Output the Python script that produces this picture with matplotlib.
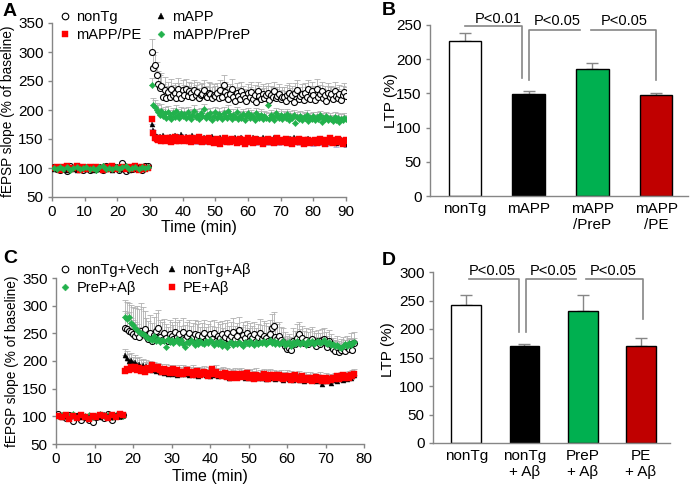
import numpy as np
import matplotlib.pyplot as plt

plt.rcParams['font.family'] = ['Liberation Sans', 'DejaVu Sans']
plt.rcParams['font.size'] = 10

GRAY = '#868686'

# ---------------- Panel A data (1-min baseline, 0.5-min after tetanus) ----------------
a_base_t = 0.5 + np.arange(30)
a_post_t = 30.5 + 0.5 * np.arange(120)

a_nontg_base = [101, 99, 97, 102, 95, 104, 100, 103, 98, 97,
                100, 96, 102, 99, 101, 97, 103, 100, 98, 102,
                97, 108, 94, 102, 99, 101, 100, 97, 103, 104]
a_mapp_base = [99, 101, 98, 100, 97, 102, 99, 96, 101, 100,
               98, 102, 97, 100, 99, 101, 98, 103, 97, 100,
               102, 98, 101, 97, 100, 99, 103, 98, 100, 101]
a_pe_base = [100, 102, 97, 101, 104, 98, 100, 103, 97, 101,
             99, 101, 98, 102, 100, 97, 101, 99, 103, 98,
             100, 102, 98, 101, 99, 104, 97, 101, 98, 100]
a_prep_base = [100, 98, 101, 99, 102, 97, 100, 101, 98, 100,
               102, 99, 100, 97, 101, 103, 99, 100, 98, 102,
               99, 101, 104, 98, 100, 102, 99, 101, 100, 102]

a_nontg_post = [300, 272, 278, 260, 245, 238, 242, 222, 235, 220,
                231, 222, 236, 225, 229, 221, 237, 228, 220, 234,
                226, 236, 224, 232, 229, 222, 235, 226, 231, 221,
                226, 228, 234, 224, 222, 230, 228, 221, 226, 224,
                230, 220, 234, 223, 243, 231, 225, 219, 228, 236,
                222, 216, 230, 224, 219, 233, 226, 221, 215, 229,
                222, 231, 219, 226, 214, 232, 224, 219, 228, 221,
                225, 230, 217, 226, 223, 232, 220, 224, 228, 219,
                223, 222, 216, 226, 230, 221, 225, 214, 229, 235,
                219, 224, 228, 217, 230, 223, 236, 219, 232, 225,
                218, 237, 222, 227, 232, 220, 225, 216, 230, 223,
                227, 219, 233, 224, 221, 228, 218, 226, 231, 224]
a_prep_post = [243, 208, 205, 200, 196, 192, 198, 189, 194, 186,
               197, 190, 185, 194, 188, 199, 191, 186, 195, 189,
               193, 187, 196, 190, 184, 192, 198, 188, 191, 185,
               194, 189, 201, 186, 192, 188, 195, 183, 190, 196,
               187, 193, 189, 184, 195, 190, 186, 198, 191, 185,
               192, 188, 196, 184, 190, 187, 193, 182, 189, 194,
               186, 191, 188, 183, 195, 189, 186, 192, 184, 190,
               187, 208, 185, 191, 188, 183, 194, 189, 186, 192,
               184, 190, 187, 193, 182, 189, 186, 191, 178, 188,
               185, 190, 183, 188, 186, 192, 181, 187, 184, 189,
               183, 188, 185, 191, 180, 186, 184, 189, 182, 187,
               184, 181, 188, 183, 186, 180, 185, 182, 187, 184]
a_mapp_post = [175, 165, 158, 155, 153, 156, 151, 157, 152, 154,
               150, 156, 153, 149, 157, 152, 155, 150, 158, 153,
               151, 155, 149, 154, 152, 157, 150, 153, 148, 155,
               152, 149, 154, 151, 147, 153, 150, 155, 148, 152,
               150, 146, 153, 149, 151, 147, 154, 150, 148, 152,
               149, 154, 147, 151, 148, 153, 150, 146, 152, 149,
               151, 147, 153, 149, 146, 152, 150, 148, 154, 147,
               150, 146, 152, 149, 147, 153, 148, 151, 146, 150,
               148, 152, 147, 150, 145, 151, 149, 153, 147, 150,
               146, 151, 148, 145, 150, 147, 152, 146, 149, 144,
               150, 147, 145, 151, 148, 146, 150, 144, 149, 147,
               145, 149, 147, 143, 148, 146, 150, 144, 147, 142]
a_pe_post = [185, 160, 152, 150, 148, 151, 147, 150, 146, 152,
             148, 151, 145, 149, 153, 147, 150, 146, 151, 148,
             146, 150, 152, 147, 145, 151, 149, 146, 150, 153,
             147, 144, 150, 148, 146, 151, 145, 149, 143, 148,
             150, 146, 142, 149, 147, 151, 145, 148, 144, 150,
             146, 149, 143, 147, 150, 145, 148, 142, 147, 151,
             145, 148, 143, 150, 146, 144, 149, 147, 142, 148,
             146, 150, 144, 147, 149, 143, 146, 151, 145, 148,
             144, 147, 150, 143, 146, 149, 142, 148, 145, 147,
             150, 144, 146, 142, 148, 145, 149, 143, 147, 145,
             148, 143, 146, 150, 144, 147, 142, 149, 145, 151,
             146, 143, 148, 145, 150, 144, 147, 142, 146, 148]

# SEM read per 5-min block (10 points each)
a_nontg_sem = [22, 18, 17, 18, 17, 16, 17, 16, 17, 16, 16, 15]
a_prep_sem = [12, 10, 10, 9, 10, 9, 9, 9, 9, 8, 8, 8]
a_mapp_sem = [7, 6, 6, 6, 6, 6, 6, 6, 6, 6, 6, 6]

# ---------------- Panel C data ----------------
c_base_t = 0.5 + np.arange(18)
c_post_t = 18 + 0.5 * np.arange(120)

c_veh_base = [104, 100, 97, 103, 92, 101, 94, 98, 93, 90, 99, 102, 97, 104, 93, 100, 101, 103]
c_ab_base = [102, 99, 101, 97, 100, 103, 98, 101, 99, 102, 100, 98, 104, 101, 99, 102, 100, 103]
c_prep_base = [100, 103, 98, 101, 104, 99, 102, 100, 103, 98, 101, 104, 100, 102, 99, 103, 101, 100]
c_pe_base = [101, 98, 102, 96, 100, 97, 103, 99, 95, 101, 98, 102, 100, 97, 103, 99, 104, 102]

c_veh_post = [260, 257, 255, 252, 248, 245, 250, 244, 255, 248,
              258, 246, 240, 251, 236, 247, 255, 260, 243, 238,
              250, 241, 236, 248, 245, 239, 252, 244, 248, 237,
              253, 240, 246, 250, 238, 244, 249, 241, 247, 236,
              245, 250, 238, 243, 248, 240, 251, 237, 246, 242,
              249, 236, 244, 251, 239, 246, 253, 240, 245, 256,
              238, 247, 242, 250, 236, 245, 241, 248, 237, 244,
              250, 239, 246, 242, 237, 248, 259, 263, 244, 240,
              246, 238, 235, 228, 222, 224, 219, 236, 230, 242,
              248, 235, 241, 232, 238, 230, 236, 240, 233, 228,
              236, 231, 238, 240, 233, 226, 236, 229, 222, 218,
              225, 217, 220, 223, 218, 226, 221, 230, 219, 232]
c_prep_post = [280, 276, 279, 268, 265, 260, 256, 252, 250, 248,
               247, 244, 242, 240, 238, 245, 236, 240, 234, 238,
               237, 226, 240, 234, 238, 232, 236, 240, 233, 238,
               230, 226, 235, 232, 238, 234, 229, 236, 231, 237,
               233, 230, 236, 232, 238, 234, 229, 235, 231, 236,
               228, 233, 230, 226, 232, 235, 229, 233, 230, 234,
               231, 228, 235, 232, 230, 236, 233, 229, 234, 231,
               235, 232, 236, 230, 234, 238, 233, 236, 231, 234,
               230, 233, 236, 229, 232, 235, 228, 234, 231, 236,
               233, 230, 235, 232, 229, 236, 233, 237, 231, 234,
               236, 232, 235, 238, 233, 230, 234, 229, 231, 227,
               229, 226, 224, 228, 231, 227, 233, 229, 232, 235]
c_ab_post = [210, 206, 200, 202, 196, 199, 193, 195, 190, 192,
             188, 191, 186, 189, 184, 187, 182, 185, 180, 183,
             179, 182, 177, 181, 176, 180, 178, 175, 181, 177,
             180, 176, 179, 174, 178, 181, 175, 178, 173, 177,
             176, 179, 174, 178, 172, 177, 175, 180, 173, 176,
             174, 178, 172, 176, 170, 175, 173, 177, 171, 174,
             176, 172, 170, 175, 173, 169, 174, 171, 176, 170,
             173, 170, 175, 168, 172, 174, 169, 173, 167, 171,
             169, 173, 166, 170, 172, 168, 171, 165, 170, 168,
             172, 166, 169, 164, 170, 167, 171, 165, 168, 163,
             167, 170, 158, 165, 169, 163, 167, 161, 166, 169,
             164, 168, 171, 166, 170, 167, 172, 169, 173, 175]
c_pe_post = [182, 186, 184, 189, 185, 190, 184, 187, 182, 186,
             180, 185, 188, 183, 192, 189, 186, 190, 184, 181,
             186, 180, 183, 178, 182, 185, 179, 183, 177, 181,
             176, 180, 183, 178, 181, 175, 179, 182, 177, 174,
             178, 181, 176, 173, 179, 185, 176, 180, 174, 177,
             172, 175, 178, 171, 176, 169, 174, 177, 170, 173,
             176, 171, 174, 178, 170, 175, 172, 168, 174, 171,
             169, 173, 176, 170, 168, 174, 171, 175, 169, 172,
             175, 170, 167, 173, 169, 172, 166, 171, 174, 168,
             170, 166, 172, 168, 165, 170, 167, 163, 169, 171,
             166, 169, 164, 167, 170, 163, 168, 165, 170, 167,
             172, 168, 171, 174, 169, 173, 170, 175, 172, 176]

c_veh_sem = [50, 32, 26, 25, 24, 24, 23, 26, 24, 22, 20, 20]
c_prep_sem = [10, 8, 8, 7, 7, 7, 7, 7, 7, 7, 7, 7]
c_ab_sem = [12, 11, 12, 12, 12, 11, 11, 11, 11, 10, 10, 10]

# ---------------- Bar data ----------------
b_labels = ['nonTg', 'mAPP', 'mAPP\n/PreP', 'mAPP\n/PE']
b_ltp = [226, 149, 185, 147]
b_sem = [13, 5, 9, 3]

d_labels = ['nonTg', 'nonTg\n+ Aβ', 'PreP\n+ Aβ', 'PE\n+ Aβ']
d_ltp = [242, 170, 232, 170]
d_sem = [18, 3, 28, 15]

bar_colors = ['white', 'black', '#00B050', '#C00000']

# marker styles
S_CIRC = dict(marker='o', ms=4.3, mfc='white', mec='black', mew=0.8, ls='none')
S_TRI = dict(marker='^', ms=3.6, mfc='black', mec='black', mew=0.3, ls='none')
S_SQ = dict(marker='s', ms=3.8, mfc='#FF0000', mec='#FF0000', mew=0.3, ls='none')
S_DIA = dict(marker='D', ms=3.2, mfc='#22B14C', mec='#22B14C', mew=0.3, ls='none')


def style_axes(ax):
    for s in ['top', 'right']:
        ax.spines[s].set_visible(False)
    for s in ['left', 'bottom']:
        ax.spines[s].set_color(GRAY)
        ax.spines[s].set_linewidth(1.0)
    ax.tick_params(colors=GRAY, labelcolor='black', labelsize=11, length=3, width=1.0, pad=3)


def sem_up(ax, t, y, sem, color='#b0b0b0'):
    err = np.repeat(sem, 10)
    ax.errorbar(t, y, yerr=[np.zeros(len(err)), err], fmt='none', ecolor=color,
                elinewidth=0.6, capsize=2, capthick=0.6, zorder=1)


def sem_down(ax, t, y, sem, color):
    err = np.repeat(sem, 10)
    ax.errorbar(t, y, yerr=[err, np.zeros(len(err))], fmt='none', ecolor=color,
                elinewidth=0.6, capsize=2, capthick=0.6, zorder=1)


def trace(ax, tb, yb, tp, yp, style, label, z):
    ax.plot(tb, yb, zorder=z, **style)
    return ax.plot(tp, yp, zorder=z, label=label, **style)[0]


fig = plt.figure(figsize=(6.9, 4.92), dpi=100)

# ---------------- A ----------------
axA = fig.add_axes([52 / 690, 1 - 197 / 492, 294 / 690, 174 / 492])
sem_up(axA, a_post_t, a_nontg_post, a_nontg_sem)
sem_up(axA, a_post_t, a_prep_post, a_prep_sem)
sem_down(axA, a_post_t, a_mapp_post, a_mapp_sem, '#a8a8dc')
hA1 = trace(axA, a_base_t, a_nontg_base, a_post_t, a_nontg_post, S_CIRC, 'nonTg', 3)
hA4 = trace(axA, a_base_t, a_prep_base, a_post_t, a_prep_post, S_DIA, 'mAPP/PreP', 4)
hA2 = trace(axA, a_base_t, a_mapp_base, a_post_t, a_mapp_post, S_TRI, 'mAPP', 5)
hA3 = trace(axA, a_base_t, a_pe_base, a_post_t, a_pe_post, S_SQ, 'mAPP/PE', 6)
axA.plot(a_base_t, a_prep_base, zorder=7, **S_DIA)
axA.set_xlim(0, 90)
axA.set_ylim(50, 350)
axA.set_xticks(np.arange(0, 91, 10))
axA.set_yticks(np.arange(50, 351, 50))
style_axes(axA)
axA.set_xlabel('Time (min)', fontsize=11.5)
axA.xaxis.set_label_coords(0.5, -0.135)
axA.set_ylabel('fEPSP slope (% of baseline)', fontsize=9.8)
axA.yaxis.set_label_coords(-0.125, 0.49)
fig.legend(handles=[hA1, hA3, hA2, hA4], ncol=2, loc='upper left',
           bbox_to_anchor=(53 / 690, 1 - 3 / 492), frameon=False, fontsize=10.5,
           handlelength=0.7, handletextpad=0.4, columnspacing=1.0,
           labelspacing=0.25, borderpad=0, markerscale=1.1)

# ---------------- C ----------------
axC = fig.add_axes([56 / 690, 1 - 444 / 492, 308 / 690, 166 / 492])
sem_up(axC, c_post_t, c_veh_post, c_veh_sem)
sem_up(axC, c_post_t, c_prep_post, c_prep_sem)
sem_up(axC, c_post_t, c_ab_post, c_ab_sem)
hC1 = trace(axC, c_base_t, c_veh_base, c_post_t, c_veh_post, S_CIRC, 'nonTg+Vech', 3)
hC3 = trace(axC, c_base_t, c_prep_base, c_post_t, c_prep_post, S_DIA, 'PreP+Aβ', 4)
hC2 = trace(axC, c_base_t, c_ab_base, c_post_t, c_ab_post, S_TRI, 'nonTg+Aβ', 5)
hC4 = trace(axC, c_base_t, c_pe_base, c_post_t, c_pe_post, S_SQ, 'PE+Aβ', 6)
axC.set_xlim(0, 80)
axC.set_ylim(50, 350)
axC.set_xticks(np.arange(0, 81, 10))
axC.set_yticks(np.arange(50, 351, 50))
style_axes(axC)
axC.set_xlabel('Time (min)', fontsize=11.5)
axC.xaxis.set_label_coords(0.5, -0.15)
axC.set_ylabel('fEPSP slope (% of baseline)', fontsize=9.8)
axC.yaxis.set_label_coords(-0.12, 0.5)
fig.legend(handles=[hC1, hC3, hC2, hC4], ncol=2, loc='upper left',
           bbox_to_anchor=(53 / 690, 1 - 256 / 492), frameon=False, fontsize=10.5,
           handlelength=0.7, handletextpad=0.4, columnspacing=0.5,
           labelspacing=0.25, borderpad=0, markerscale=1.1)


# ---------------- bars ----------------
def bar_panel(ax, labels, vals, sems, ymax, step):
    x = np.arange(len(vals))
    ax.bar(x, vals, width=0.51, color=bar_colors, edgecolor='black', linewidth=1.0, zorder=2)
    ax.errorbar(x, vals, yerr=[np.zeros(len(sems)), sems], fmt='none', ecolor=GRAY,
                elinewidth=1.0, capsize=4, capthick=1.0, zorder=1)
    ax.set_ylim(0, ymax)
    ax.set_yticks(np.arange(0, ymax + 1, step))
    ax.set_xticks(x)
    ax.set_xticklabels(labels, fontsize=10.5)
    style_axes(ax)
    ax.tick_params(axis='x', length=0, pad=4)
    ax.set_ylabel('LTP (%)', fontsize=11)


def bracket(ax, xs, ys):
    ax.plot(xs, ys, color=GRAY, lw=1.2, clip_on=False, zorder=3)


axB = fig.add_axes([430 / 690, 1 - 196 / 492, 258 / 690, 171 / 492])
bar_panel(axB, b_labels, b_ltp, b_sem, 250, 50)
axB.yaxis.set_label_coords(-0.125, 0.56)
axB.set_xlim(-0.55, 3.5)
bracket(axB, [0, 0.89, 0.89], [248, 248, 172])
bracket(axB, [1.0, 1.0, 1.8], [170, 243, 243])
bracket(axB, [1.98, 3.0, 3.0], [243, 243, 170])
axB.text(0.52, 249, 'P<0.01', ha='center', va='bottom', fontsize=10.5)
axB.text(1.45, 245, 'P<0.05', ha='center', va='bottom', fontsize=10.5)
axB.text(2.5, 245, 'P<0.05', ha='center', va='bottom', fontsize=10.5)

axD = fig.add_axes([433 / 690, 1 - 443 / 492, 237 / 690, 171 / 492])
bar_panel(axD, d_labels, d_ltp, d_sem, 300, 50)
axD.yaxis.set_label_coords(-0.16, 0.545)
axD.set_xlim(-0.57, 3.5)
bracket(axD, [0.05, 0.9, 0.9], [288, 288, 195])
bracket(axD, [1.03, 1.03, 1.88], [195, 288, 288])
bracket(axD, [2.05, 3.03, 3.03], [288, 288, 217])
axD.text(0.45, 289, 'P<0.05', ha='center', va='bottom', fontsize=10.5)
axD.text(1.49, 289, 'P<0.05', ha='center', va='bottom', fontsize=10.5)
axD.text(2.53, 289, 'P<0.05', ha='center', va='bottom', fontsize=10.5)

# panel letters
for lx, ly, s in [(3, 3, 'A'), (382, 2, 'B'), (3, 250, 'C'), (382, 252, 'D')]:
    fig.text(lx / 690, 1 - ly / 492, s, fontsize=14, fontweight='bold', ha='left', va='top')

fig.savefig('out.png', dpi=100)
